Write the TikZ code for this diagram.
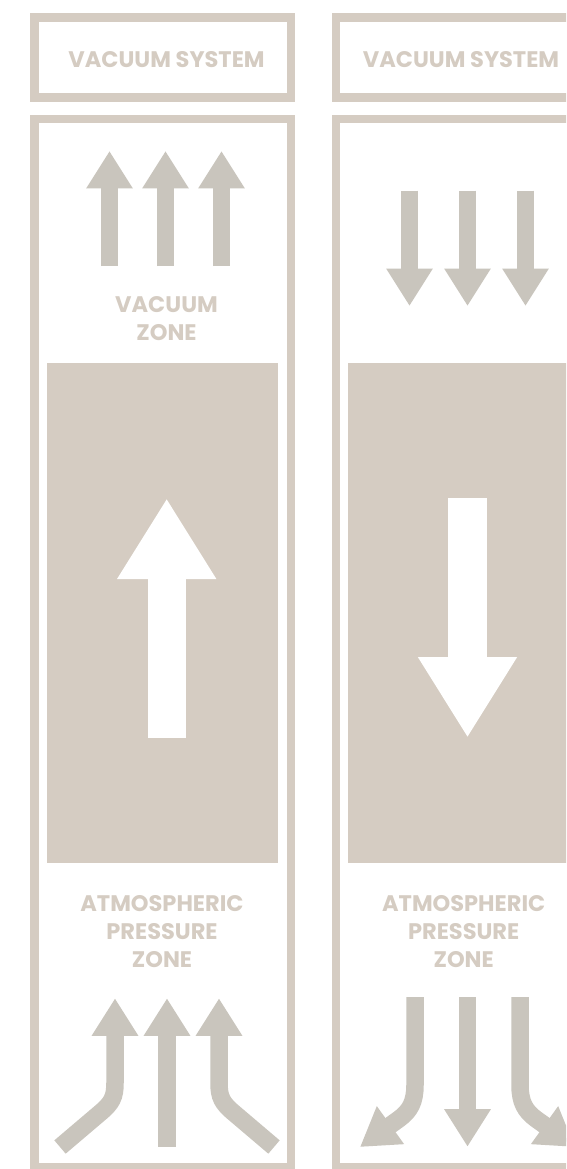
\documentclass[tikz,border=0pt]{standalone}
\usepackage{fontspec}
\setsansfont{Poppins}
\usetikzlibrary{arrows.meta}
\definecolor{sandline}{RGB}{213,204,194}
\definecolor{flowgrey}{RGB}{201,197,189}

\begin{document}
\begin{tikzpicture}[
  x=1pt,y=-1pt,
  boxline/.style={draw=sandline,line width=8.4pt},
  zonefill/.style={fill=sandline},
  syslabel/.style={text=sandline,font=\sffamily\bfseries\fontsize{22.5}{28}\selectfont},
  zonelabel/.style={text=sandline,align=center,font=\sffamily\bfseries\fontsize{22.5}{28}\selectfont},
  flowarrow/.style={draw=flowgrey,line width=17.5pt,-{Triangle[length=37.5pt,width=44pt]}},
  bigarrow/.style={draw=white,line width=38.3pt,-{Triangle[length=80.7pt,width=93.3pt]}}
]
\fill[white] (0,0) rectangle (566,1169);
\clip (0,0) rectangle (566,1169);

% Left column: air drawn up into the vacuum system.
\draw[boxline] (34.5,17.5) rectangle (290.8,97.5);
\node[syslabel] (sysL) at (166.5,60) {VACUUM SYSTEM};
\draw[boxline] (34.5,119.2) rectangle (290.8,1167);
\fill[zonefill] (47,362.7) rectangle (278.3,863.3);

\draw[flowarrow] (109.5,266) -- (109.5,151);
\draw[flowarrow] (165.5,266) -- (165.5,151);
\draw[flowarrow] (221.5,266) -- (221.5,151);
\node[zonelabel] (vacL) at (166.5,318.5) {VACUUM\\ZONE};

\draw[bigarrow] (166.7,737.7) -- (166.7,498.3);

\node[zonelabel] (atmL) at (162,932) {ATMOSPHERIC\\PRESSURE\\ZONE};
\draw[flowarrow] (60,1147) -- (100,1113) .. controls (112,1103) and (115,1097) .. (115,1083) -- (115,998.3);
\draw[flowarrow] (167,1146.7) -- (167,998.3);
\draw[flowarrow] (274,1147) -- (234,1113) .. controls (222,1103) and (219,1097) .. (219,1083) -- (219,998.3);

% Right column: air pushed down out of the vacuum system.
\draw[boxline] (335.9,17.5) rectangle (592.2,97.5);
\node[syslabel] (sysR) at (461,60) {VACUUM SYSTEM};
\draw[boxline] (335.9,119.2) rectangle (592.2,1167);
\fill[zonefill] (348.3,362.7) rectangle (600,863.3);

\draw[flowarrow] (409.5,190.7) -- (409.5,306);
\draw[flowarrow] (467.5,190.7) -- (467.5,306);
\draw[flowarrow] (525.5,190.7) -- (525.5,306);

\draw[bigarrow] (467.5,498) -- (467.5,737.7);

\node[zonelabel] (atmR) at (463.7,932) {ATMOSPHERIC\\PRESSURE\\ZONE};
\draw[flowarrow] (415,997) -- (415,1085) .. controls (415,1102) and (410,1111) .. (399,1119) -- (360,1147);
\draw[flowarrow] (467.5,997) -- (467.5,1146.7);
\draw[flowarrow] (520,997) -- (520,1085) .. controls (520,1102) and (525,1111) .. (536,1119) -- (575,1147);
\end{tikzpicture}
\end{document}
